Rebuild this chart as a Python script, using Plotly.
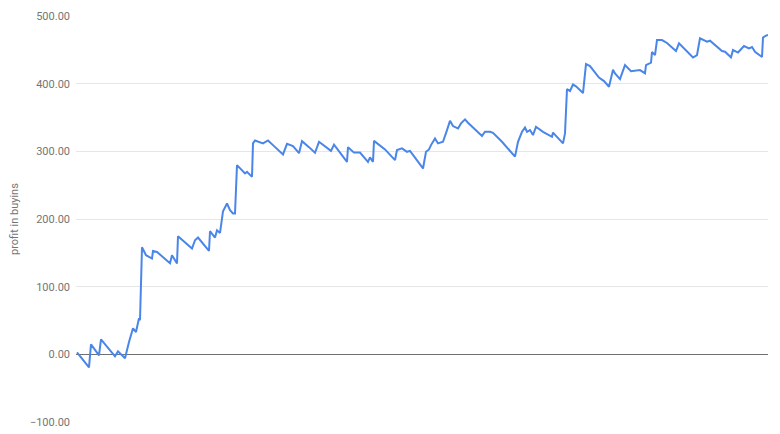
import plotly.graph_objects as go

# game index (arbitrary units) and cumulative profit in buyins
games = [1, 13, 15, 23, 25, 39, 42, 49, 53, 57, 60, 63, 64, 66, 70, 76, 77, 81, 94, 96,
         101, 102, 116, 119, 122, 133, 134, 139, 141, 144, 146, 147, 151, 154, 157, 159, 161, 169, 171, 176,
         177, 179, 187, 192, 197, 207, 211, 217, 223, 226, 233, 239, 243, 250, 255, 258, 271, 272, 278, 284,
         287, 292, 294, 297, 298, 304, 309, 319, 321, 326, 331, 334, 347, 350, 353, 355, 359, 362, 367, 371,
         374, 377, 382, 385, 389, 392, 406, 409, 414, 417, 426, 439, 442, 446, 449, 451, 454, 457, 460, 467,
         476, 477, 487, 489, 491, 494, 497, 500, 507, 510, 514, 523, 528, 533, 537, 539, 544, 546, 549, 555,
         560, 564, 569, 570, 575, 576, 579, 581, 586, 591, 600, 603, 617, 621, 624, 631, 634, 646, 649, 655,
         657, 662, 668, 673, 676, 679, 686, 687, 690, 692]

profit = [3.0, -19.2, 14.8, -1.5, 22.2, -3.0, 4.4, -5.9, 18.2, 38.5, 33.0, 53.3, 50.3, 158.3, 146.5, 141.6, 152.8, 151.3, 134.6, 146.4,
          134.2, 174.6, 156.4, 168.6, 172.6, 152.8, 182.0, 172.6, 183.4, 179.4, 200.7, 211.5, 222.9, 213.0, 208.1, 208.1, 279.6, 267.3, 269.7, 262.3,
          311.7, 316.1, 311.7, 316.1, 309.2, 295.4, 311.1, 307.7, 297.3, 315.1, 306.2, 297.8, 314.1, 305.8, 300.7, 309.9, 284.5, 306.2, 298.1, 298.1,
          292.9, 284.5, 291.0, 284.5, 315.5, 309.2, 302.8, 287.0, 301.8, 304.3, 299.3, 300.7, 274.7, 299.3, 302.8, 309.2, 319.1, 311.7, 314.1, 331.4,
          345.1, 337.3, 333.9, 341.3, 347.2, 342.2, 322.8, 328.9, 328.9, 327.4, 314.1, 292.2, 314.1, 328.9, 335.1, 328.9, 331.4, 324.0, 336.3, 328.9,
          321.5, 327.7, 311.7, 326.5, 392.0, 389.1, 398.7, 396.0, 386.1, 429.0, 426.0, 409.0, 403.8, 395.4, 420.6, 415.2, 406.8, 415.2, 427.5, 418.3,
          419.4, 420.1, 415.2, 427.5, 431.2, 446.7, 442.3, 464.5, 464.5, 460.1, 448.2, 459.6, 438.6, 442.3, 467.0, 462.0, 463.5, 448.2, 447.2, 439.0,
          449.7, 446.0, 455.6, 452.2, 454.1, 447.2, 439.4, 468.2, 471.1, 471.9]

y_ticks = [-100, 0, 100, 200, 300, 400, 500]
y_title = "profit in buyins"

fig = go.Figure()
fig.add_trace(go.Scatter(
    x=games, y=profit, mode="lines",
    line=dict(color="#4a86e8", width=2),
    showlegend=False, hoverinfo="skip",
))

fig.update_layout(
    template="none",
    width=780, height=434,
    margin=dict(l=76, r=12, t=16, b=12, autoexpand=False),
    paper_bgcolor="white", plot_bgcolor="white",
    font=dict(family="Roboto, Arial, sans-serif", size=11, color="#757575"),
    xaxis=dict(range=[0, 692], showticklabels=False, showgrid=False,
               zeroline=False, showline=False, ticks="", automargin=False),
    yaxis=dict(range=[-100, 500], tickvals=y_ticks, tickformat=".2f",
               tickfont=dict(color="#757575", size=11), ticklabelstandoff=5,
               showgrid=True, gridcolor="#e6e6e6", gridwidth=1,
               zeroline=True, zerolinecolor="#707070", zerolinewidth=1,
               showline=False, ticks="", automargin=False),
    annotations=[dict(text=y_title, xref="paper", yref="paper", x=0, y=0.5,
                      xanchor="center", yanchor="middle",
                      xshift=-62, textangle=-90, showarrow=False,
                      font=dict(size=11, color="#757575"))],
)

fig.write_html("out.html", config={"displayModeBar": False},
               post_script="document.body.style.margin='0';document.body.style.overflow='hidden';")
